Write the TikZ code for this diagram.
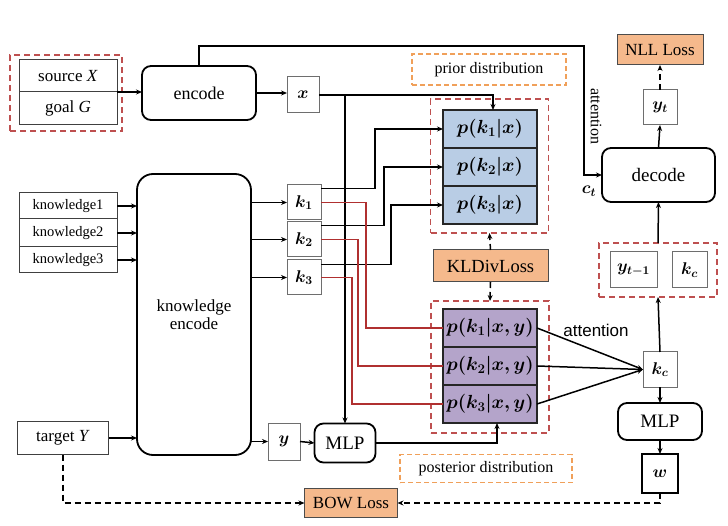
\documentclass[tikz,border=0pt]{standalone}
\usepackage{fix-cm}
\usepackage{amsmath,bm}
\usepackage{fontspec}
\setmainfont{Liberation Serif}
\newfontfamily\arialfont{Liberation Sans}
\usetikzlibrary{arrows.meta}
\definecolor{lossfill}{RGB}{245,185,140}
\definecolor{priorfill}{RGB}{185,205,229}
\definecolor{postfill}{RGB}{180,164,202}
\definecolor{redln}{RGB}{176,48,48}
\definecolor{grpred}{RGB}{190,80,80}
\definecolor{lblorange}{RGB}{240,160,90}
\definecolor{boxgray}{RGB}{110,110,110}
\newcommand\myfs[1]{\fontsize{#1}{#1}\selectfont}
\begin{document}
\begin{tikzpicture}[x=1pt,y=-1pt,
  every node/.style={inner sep=0pt, outer sep=0pt},
  tbox/.style={draw=black!75, line width=1pt, fill=white, align=center},
  gbox/.style={draw=boxgray, line width=1pt, fill=white},
  rbox/.style={draw, line width=1.8pt, rounded corners=9pt, fill=white, align=center},
  grp/.style={draw=grpred, line width=1.4pt, dash pattern=on 6pt off 4pt},
  lbl/.style={draw=lblorange, line width=1.3pt, dash pattern=on 5pt off 3pt},
  loss/.style={draw=black!70, line width=1pt, fill=lossfill},
  priorbox/.style={draw=black!85, line width=2pt, fill=priorfill, minimum width=94pt, minimum height=38pt},
  postbox/.style={draw=black!85, line width=2pt, fill=postfill, minimum width=94pt, minimum height=38pt},
  ln/.style={line width=1.5pt},
  arr/.style={ln, -{Stealth[length=6pt,width=5pt]}},
  darr/.style={arr, dash pattern=on 6pt off 4pt},
  rln/.style={draw=redln, line width=1.3pt}
]
\useasboundingbox (0,0) rectangle (728,526);

% groups and labels
\node[grp, minimum width=112pt, minimum height=76pt] (grp1) at (66,93) {};
\node[grp, minimum width=118pt, minimum height=134pt] (grp2) at (489.5,166) {};
\node[grp, minimum width=118pt, minimum height=132pt] (grp3) at (490,367) {};
\node[grp, minimum width=118pt, minimum height=54pt] (grp4) at (658,270) {};
\node[lbl, minimum width=154pt, minimum height=31pt] (plbl) at (489,69.5) {\myfs{16}prior distribution};
\node[lbl, minimum width=172pt, minimum height=28pt] (qlbl) at (486,468.5) {\myfs{16}posterior distribution};

% left inputs
\node[tbox, minimum width=98pt, minimum height=32pt] (src) at (68,76) {\myfs{17}source \textit{X}};
\node[tbox, minimum width=98pt, minimum height=33pt] (goal) at (68,108.5) {\myfs{17}goal \textit{G}};
\node[tbox, minimum width=98pt, minimum height=26pt] (kn1) at (68,206) {\myfs{14.5}knowledge1};
\node[tbox, minimum width=98pt, minimum height=28pt] (kn2) at (68,233) {\myfs{14.5}knowledge2};
\node[tbox, minimum width=98pt, minimum height=26pt] (kn3) at (68,260) {\myfs{14.5}knowledge3};
\node[tbox, minimum width=91pt, minimum height=33pt] (target) at (63,438) {\myfs{17}target \textit{Y}};

% encoders
\node[rbox, minimum width=114pt, minimum height=54pt] (encode) at (199,93) {\myfs{18}encode};
\node[rbox, rounded corners=16pt, minimum width=114pt, minimum height=281pt] (ke) at (194,314.5) {\myfs{17}knowledge\\[1pt]\myfs{17}encode};

% small boxes
\node[gbox, minimum width=32pt, minimum height=36pt] (xbox) at (303,95) {\myfs{17}$\bm{x}$};
\node[gbox, minimum width=34pt, minimum height=35pt] (k1) at (304,202.5) {\myfs{17}$\bm{k_1}$};
\node[gbox, minimum width=34pt, minimum height=35pt] (k2) at (304,239.5) {\myfs{17}$\bm{k_2}$};
\node[gbox, minimum width=34pt, minimum height=35pt] (k3) at (304,277.5) {\myfs{17}$\bm{k_3}$};
\node[gbox, minimum width=32pt, minimum height=37pt] (ybox) at (284,441.5) {\myfs{17}$\bm{y}$};
\node[rbox, minimum width=61pt, minimum height=39pt] (mlp1) at (345,443) {\myfs{19}MLP};

% prior / posterior
\node[priorbox] (p1) at (490,129) {\myfs{19}$\bm{p(k_1|x)}$};
\node[priorbox] (p2) at (490,167) {\myfs{19}$\bm{p(k_2|x)}$};
\node[priorbox] (p3) at (490,205) {\myfs{19}$\bm{p(k_3|x)}$};
\node[postbox] (q1) at (490,328) {\myfs{19}$\bm{p(k_1|x,y)}$};
\node[postbox] (q2) at (490,366) {\myfs{19}$\bm{p(k_2|x,y)}$};
\node[postbox] (q3) at (490,404) {\myfs{19}$\bm{p(k_3|x,y)}$};
\node[loss, minimum width=115pt, minimum height=32pt] (kl) at (490.5,266) {\myfs{18.5}KLDivLoss};
\node[loss, minimum width=93pt, minimum height=29pt] (bow) at (351,503) {\myfs{17}BOW Loss};

% right side
\node[loss, minimum width=86pt, minimum height=30pt] (nll) at (660,50) {\myfs{17}NLL Loss};
\node[gbox, minimum width=34pt, minimum height=35pt] (yt) at (660,107.5) {\myfs{17}$\bm{y_t}$};
\node[rbox, minimum width=113pt, minimum height=54pt] (decode) at (658.5,175) {\myfs{19}decode};
\node[gbox, minimum width=47pt, minimum height=36pt] (ytm) at (633.5,270) {\myfs{17}$\bm{y_{t-1}}$};
\node[gbox, minimum width=35pt, minimum height=36pt] (kca) at (689.5,270) {\myfs{17}$\bm{k_c}$};
\node[gbox, minimum width=34pt, minimum height=35pt] (kcb) at (660,369.5) {\myfs{17}$\bm{k_c}$};
\node[rbox, minimum width=84pt, minimum height=37pt] (mlp2) at (660,421.5) {\myfs{19}MLP};
\node[draw, line width=1.5pt, fill=white, minimum width=36pt, minimum height=39pt] (wbox) at (660,473.5) {\myfs{17}$\bm{w}$};

% labels
\node[rotate=-90] (attv) at (596,116) {\myfs{16}attention};
\node (ct) at (589,191) {\myfs{17}$\bm{c_t}$};
\node (atth) at (596,330) {\arialfont\myfs{17}attention};

% connectors
\coordinate (topR) at (584,46);
\draw[arr] (goal.north east) -- (encode.west |- goal.north east);
\draw[arr] (encode.east) -- (xbox.west |- encode.east);
\draw[arr] (encode.north) |- (topR) |- (decode.west);
\draw[arr] (xbox.east) -| ([xshift=3pt]p1.north);
\draw[arr] (xbox.east -| mlp1.north) -- (mlp1.north);

\draw[arr] (kn1.east) -- (ke.west |- kn1.east);
\draw[arr] (kn2.east) -- (ke.west |- kn2.east);
\draw[arr] (kn3.east) -- (ke.west |- kn3.east);
\draw[arr] (target.east) -- (ke.west |- target.east);
\draw[arr] (ke.east |- k1.west) -- (k1.west);
\draw[arr] (ke.east |- k2.west) -- (k2.west);
\draw[arr] (ke.east |- k3.west) -- (k3.west);
\draw[arr] (ke.east |- ybox.west) -- (ybox.west);
\draw[arr] (ybox.east) -- (mlp1.west);
\draw[arr] (mlp1.east) -| ([xshift=7pt]q3.south);

\draw[arr] ([yshift=14pt]k1.east) -- ++(54,0) |- (p1.west);
\draw[arr] ([yshift=14pt]k2.east) -- ++(63,0) |- (p2.west);
\draw[arr] ([yshift=13pt]k3.east) -- ++(70,0) |- (p3.west);
\draw[rln] (k1.east) -- ++(45,0) |- (q1.west);
\draw[rln] (k2.east) -- ++(37,0) |- (q2.west);
\draw[rln] (k3.east) -- ++(31,0) |- (q3.west);

\draw[darr] (kl.north) -- (grp2.south);
\draw[darr] (kl.south) -- (grp3.north);

\draw[arr] (q1.east) -- (kcb.west);
\draw[arr] (q2.east) -- (kcb.west);
\draw[arr] (q3.east) -- (kcb.west);

\draw[arr] (decode.north) -- (yt.south);
\draw[darr] (yt.north) -- (nll.south);
\draw[arr] (grp4.north) -- (decode.south);
\draw[arr] (kcb.north) -- (grp4.south);
\draw[arr] (kcb.south) -- (mlp2.north);
\draw[arr] (mlp2.south) -- (wbox.north);

\draw[darr] (target.south) |- (bow.west);
\draw[darr] (wbox.south) |- (bow.east);
\end{tikzpicture}
\end{document}
